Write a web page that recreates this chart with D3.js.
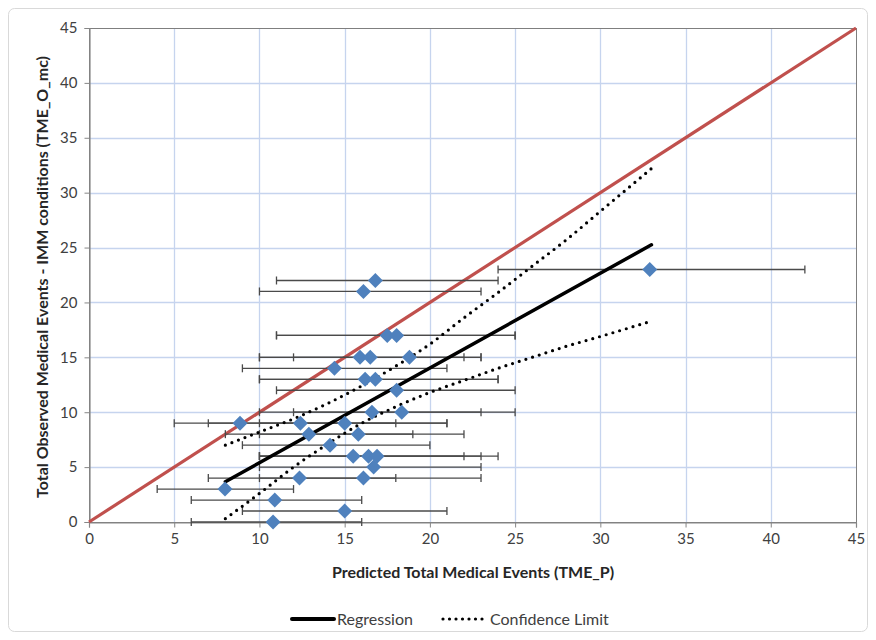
<!DOCTYPE html>
<html>
<head>
<meta charset="utf-8">
<script src="https://cdn.jsdelivr.net/npm/d3@7"></script>
<style>
  html, body { margin: 0; padding: 0; background: #ffffff; }
  svg { display: block; }
  text { font-family: Lato, "Open Sans", sans-serif; }
</style>
</head>
<body>
<svg id="chart" width="876" height="640"></svg>
<script>
// ---- Data ----
const predicted = [32.9, 16.8, 16.1, 17.5, 18.05, 15.9, 16.5, 18.8, 14.4, 16.2, 16.8, 18.05, 16.6, 18.35,
                   8.86, 12.4, 15.0, 12.9, 15.8, 14.14, 15.5, 16.4, 16.9, 16.7, 12.35, 16.1, 7.98, 10.9, 15.0, 10.8];
const observed  = [23, 22, 21, 17, 17, 15, 15, 15, 14, 13, 13, 12, 10, 10,
                   9, 9, 9, 8, 8, 7, 6, 6, 6, 5, 4, 4, 3, 2, 1, 0];
const errLow    = [24, 11, 10, 11, 11, 10, 10, 12, 9, 10, 10, 11, 10, 12,
                   5, 7, 10, 8, 10, 9, 10, 10, 10, 10, 7, 10, 4, 6, 9, 6];
const errHigh   = [42, 24, 23, 25, 25, 22, 23, 23, 21, 24, 24, 25, 23, 25,
                   18, 21, 21, 19, 22, 20, 22, 23, 24, 23, 18, 23, 12, 16, 21, 16];

const regX = [8, 33];
const regY = [3.67, 25.25];

const confX     = [8, 10, 12, 14, 16, 18, 20, 22, 24, 26, 28, 30, 33];
const confUpper = [7.0, 8.2, 9.4, 10.8, 12.4, 14.2, 16.2, 18.6, 20.9, 23.3, 25.7, 28.3, 32.2];
const confLower = [0.3, 2.6, 5.0, 7.1, 9.0, 10.5, 11.8, 12.9, 14.0, 15.0, 16.0, 16.9, 18.3];

const identityX = [0, 45];
const identityY = [0, 45];

const xTicks = [0, 5, 10, 15, 20, 25, 30, 35, 40, 45];
const yTicks = [0, 5, 10, 15, 20, 25, 30, 35, 40, 45];

const xTitle = "Predicted Total Medical Events (TME_P)";
const yTitle = "Total Observed Medical Events - IMM conditions (TME_O_mc)";
const legendLabels = ["Regression", "Confidence Limit"];

// ---- Layout ----
const svg = d3.select("#chart");
const L = 89, R = 856, T = 28, B = 522;

const x = d3.scaleLinear().domain([0, 45]).range([L, R]);
const y = d3.scaleLinear().domain([0, 45]).range([B, T]);

// outer chart border
svg.append("rect")
  .attr("x", 8.5).attr("y", 8.5).attr("width", 859).attr("height", 623)
  .attr("rx", 6).attr("fill", "#fff").attr("stroke", "#d9d9d9").attr("stroke-width", 1);

// gridlines
const grid = svg.append("g");
grid.selectAll("line.v").data(xTicks.filter(d => d > 0 && d < 45)).enter().append("line")
  .attr("x1", d => Math.round(x(d)) + 0.5).attr("x2", d => Math.round(x(d)) + 0.5)
  .attr("y1", T).attr("y2", B)
  .attr("stroke", "#c6d4ee").attr("stroke-width", 1.3);
grid.selectAll("line.h").data(yTicks.filter(d => d > 0 && d < 45)).enter().append("line")
  .attr("y1", d => Math.round(y(d)) + 0.5).attr("y2", d => Math.round(y(d)) + 0.5)
  .attr("x1", L).attr("x2", R)
  .attr("stroke", "#c6d4ee").attr("stroke-width", 1.3);

// plot area border
svg.append("rect")
  .attr("x", L + 0.5).attr("y", T + 0.5).attr("width", R - L).attr("height", B - T)
  .attr("fill", "none").attr("stroke", "#7f7f7f").attr("stroke-width", 1);

// axes
const xAxis = d3.axisBottom(x).tickValues(xTicks).tickSize(5).tickPadding(6).tickFormat(d3.format("d"));
const yAxis = d3.axisLeft(y).tickValues(yTicks).tickSize(5).tickPadding(7).tickFormat(d3.format("d"));

const gx = svg.append("g").attr("transform", `translate(0,${B + 0.5})`).call(xAxis);
const gy = svg.append("g").attr("transform", `translate(${L + 0.5},0)`).call(yAxis);
[gx, gy].forEach(g => {
  g.select(".domain").attr("stroke", "#868686").attr("stroke-width", 1.2);
  g.selectAll(".tick line").attr("stroke", "#868686");
  g.selectAll(".tick text").attr("fill", "#404040").style("font-size", "15px")
    .style("font-family", "Lato, 'Open Sans', sans-serif");
});

// identity line
const line = d3.line().x(d => x(d[0])).y(d => y(d[1]));
svg.append("path")
  .datum(d3.zip(identityX, identityY))
  .attr("d", line).attr("fill", "none")
  .attr("stroke", "#c0504d").attr("stroke-width", 3.2);

// error bars
const pts = predicted.map((p, i) => ({ x: p, y: observed[i], lo: errLow[i], hi: errHigh[i] }));
const eb = svg.append("g").attr("stroke", "#4a4a4a").attr("stroke-width", 1.3);
eb.selectAll("line.bar").data(pts).enter().append("line")
  .attr("x1", d => x(d.lo)).attr("x2", d => x(d.hi))
  .attr("y1", d => y(d.y)).attr("y2", d => y(d.y));
eb.selectAll("line.capl").data(pts).enter().append("line")
  .attr("x1", d => x(d.lo)).attr("x2", d => x(d.lo))
  .attr("y1", d => y(d.y) - 4).attr("y2", d => y(d.y) + 4);
eb.selectAll("line.caph").data(pts).enter().append("line")
  .attr("x1", d => x(d.hi)).attr("x2", d => x(d.hi))
  .attr("y1", d => y(d.y) - 4).attr("y2", d => y(d.y) + 4);

// regression line
svg.append("path")
  .datum(d3.zip(regX, regY))
  .attr("d", line).attr("fill", "none")
  .attr("stroke", "#000").attr("stroke-width", 3.5).attr("stroke-linecap", "round");

// confidence limits
const curve = d3.line().x(d => x(d[0])).y(d => y(d[1])).curve(d3.curveMonotoneX);
[confUpper, confLower].forEach(arr => {
  svg.append("path")
    .datum(d3.zip(confX, arr))
    .attr("d", curve).attr("fill", "none")
    .attr("stroke", "#000").attr("stroke-width", 3.2)
    .attr("stroke-linecap", "round").attr("stroke-dasharray", "0 7");
});

// markers
svg.append("g").selectAll("path").data(pts).enter().append("path")
  .attr("transform", d => `translate(${x(d.x)},${y(d.y)})`)
  .attr("d", "M0,-7.5L7.5,0L0,7.5L-7.5,0Z")
  .attr("fill", "#4f81bd");

// axis titles
svg.append("text")
  .attr("x", 473).attr("y", 578)
  .attr("text-anchor", "middle")
  .attr("fill", "#262626").style("font-size", "16px").style("font-weight", "bold")
  .text(xTitle);

svg.append("text")
  .attr("transform", `translate(48,${(T + B) / 2 + 2}) rotate(-90)`)
  .attr("text-anchor", "middle")
  .attr("fill", "#262626").style("font-size", "16px").style("font-weight", "bold")
  .text(yTitle);

// legend
const lg = svg.append("g");
lg.append("line").attr("x1", 292).attr("x2", 334).attr("y1", 619).attr("y2", 619)
  .attr("stroke", "#000").attr("stroke-width", 4).attr("stroke-linecap", "round");
lg.append("text").attr("x", 337).attr("y", 624.5).attr("fill", "#404040")
  .style("font-size", "16px").text(legendLabels[0]);
lg.append("line").attr("x1", 443).attr("x2", 484).attr("y1", 619).attr("y2", 619)
  .attr("stroke", "#000").attr("stroke-width", 3.2).attr("stroke-linecap", "round")
  .attr("stroke-dasharray", "0 6.5");
lg.append("text").attr("x", 490).attr("y", 624.5).attr("fill", "#404040")
  .style("font-size", "16px").text(legendLabels[1]);
</script>
</body>
</html>
